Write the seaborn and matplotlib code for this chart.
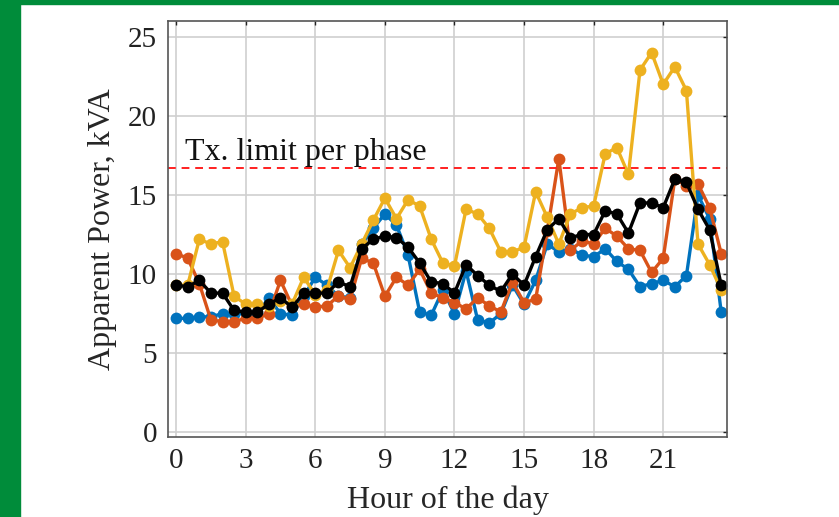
import numpy as np
import pandas as pd
from matplotlib import pyplot as plt
from matplotlib.patches import Rectangle
import seaborn as sns

hours = np.arange(0, 24, 0.5)

phase_a = [7.2, 7.2, 7.3, 7.3, 7.5, 7.5, 7.5, 7.5, 8.5, 7.5, 7.4, 8.6,
           9.8, 9.3, 8.6, 8.5, 11.9, 12.9, 13.8, 13.1, 11.2, 7.6, 7.4, 9.0,
           7.5, 10.2, 7.1, 6.9, 7.5, 9.3, 8.1, 9.6, 11.9, 11.4, 11.6, 11.2,
           11.1, 11.6, 10.8, 10.3, 9.2, 9.4, 9.6, 9.2, 9.9, 15.0, 13.5, 7.6]
phase_b = [11.3, 11.0, 9.4, 7.1, 7.0, 7.0, 7.2, 7.2, 7.5, 9.6, 8.0, 8.1,
           7.9, 8.0, 8.6, 8.4, 11.0, 10.7, 8.6, 9.8, 9.3, 10.3, 8.8, 8.5,
           8.2, 7.8, 8.5, 8.0, 7.6, 9.5, 8.2, 8.4, 12.7, 17.3, 11.5, 12.1,
           11.9, 12.9, 12.4, 11.6, 11.5, 10.1, 11.0, 16.0, 15.6, 15.7, 14.2, 11.3]
phase_c = [9.3, 9.3, 12.2, 11.9, 12.05, 8.6, 8.1, 8.1, 8.0, 8.3, 8.1, 9.8,
           8.7, 9.0, 11.5, 10.4, 11.9, 13.4, 14.8, 13.5, 14.7, 14.3, 12.2, 10.7,
           10.5, 14.1, 13.8, 12.9, 11.4, 11.4, 11.7, 15.2, 13.6, 11.9, 13.8, 14.2,
           14.3, 17.6, 18.0, 16.3, 22.9, 24.0, 22.0, 23.1, 21.6, 11.9, 10.6, 9.0]
average = [9.3, 9.2, 9.6, 8.8, 8.8, 7.7, 7.6, 7.6, 8.1, 8.5, 7.9, 8.8,
           8.8, 8.8, 9.5, 9.2, 11.6, 12.2, 12.4, 12.3, 11.7, 10.7, 9.5, 9.4,
           8.8, 10.6, 9.9, 9.3, 8.9, 10.0, 9.3, 11.1, 12.8, 13.5, 12.3, 12.5,
           12.5, 14.0, 13.8, 12.6, 14.5, 14.5, 14.2, 16.0, 15.8, 14.1, 12.8, 9.3]
tx_limit = 16.7

series = [('A', phase_a, '#0072BD'), ('B', phase_b, '#D95319'),
          ('C', phase_c, '#EDB120'), ('Avg', average, '#000000')]

sns.set_style('white')
plt.rcParams['font.family'] = ['Liberation Serif', 'DejaVu Serif']

fig = plt.figure(figsize=(8.39, 5.17), dpi=100)
fig.patches.append(Rectangle((0, 0), 20 / 839, 1, transform=fig.transFigure,
                             color='#008C3A', zorder=0))
fig.patches.append(Rectangle((0, 1 - 4 / 517), 1, 4 / 517, transform=fig.transFigure,
                             color='#008C3A', zorder=0))
ax = fig.add_axes([168 / 839, 1 - 437 / 517, (727 - 168) / 839, (437 - 21) / 517])

for name, vals, col in series:
    df = pd.DataFrame({'hour': hours, 'kva': vals})
    sns.lineplot(data=df, x='hour', y='kva', ax=ax, color=col, lw=2.4,
                 marker='o', markersize=8.5, markeredgewidth=0, legend=False)

ax.axhline(tx_limit, color='#FF2020', ls=(0, (4, 3)), lw=1.4)
ax.text(0.4, 17.2, 'Tx. limit per phase', fontsize=23, color='#111111')

ax.set_xlim(-0.35, 23.75)
ax.set_ylim(-0.3, 26)
ax.set_xticks(range(0, 22, 3))
ax.set_yticks(range(0, 26, 5))
ax.grid(True, color='#cfcfcf', lw=1.2)
ax.set_axisbelow(True)
ax.tick_params(direction='in', top=True, right=True, length=3, width=1.0,
               labelsize=21, colors='#222222', pad=8)
for s in ax.spines.values():
    s.set_color('#555555')
    s.set_linewidth(1.2)
ax.set_xlabel('Hour of the day', fontsize=23, labelpad=8)
ax.set_ylabel('Apparent Power, kVA', fontsize=23, labelpad=8)

fig.savefig('out.png', dpi=100)
